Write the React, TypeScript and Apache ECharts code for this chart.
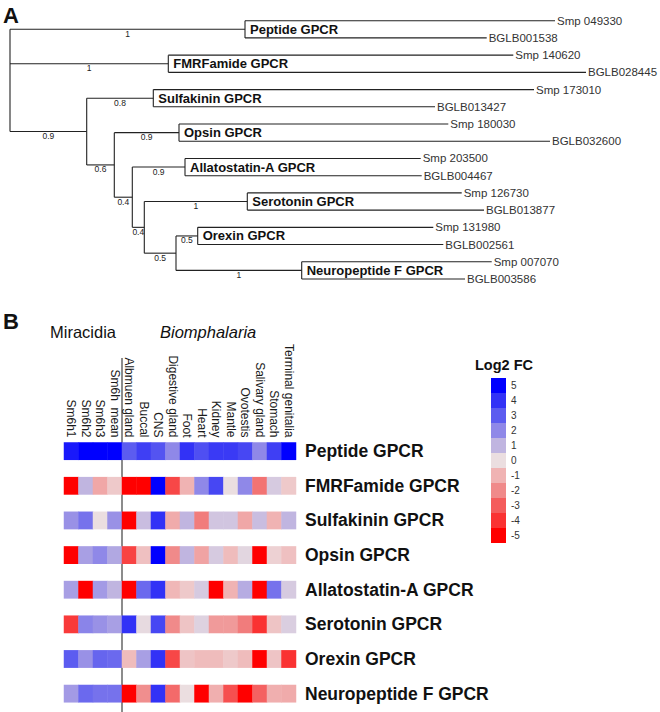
import React, { useEffect, useRef } from 'react';
import * as echarts from 'echarts';

const FONT = '"Liberation Sans", Arial, Helvetica, sans-serif';

// ---------- Panel A : phylogenetic tree ----------
const leafNames = ['Smp 049330', 'BGLB001538', 'Smp 140620', 'BGLB028445', 'Smp 173010', 'BGLB013427', 'Smp 180030', 'BGLB032600', 'Smp 203500', 'BGLB004467', 'Smp 126730', 'BGLB013877', 'Smp 131980', 'BGLB002561', 'Smp 007070', 'BGLB003586'];
const leafDepths = [545, 476.7, 503.3, 576, 524, 425, 438.3, 540, 410.7, 411.7, 451.7, 474, 423.3, 433.3, 481.7, 455];
const leafParents = ['pep', 'pep', 'fmrf', 'fmrf', 'sulf', 'sulf', 'opsin', 'opsin', 'alla', 'alla', 'sero', 'sero', 'orex', 'orex', 'npf', 'npf'];

const cladeIds = ['pep', 'fmrf', 'sulf', 'opsin', 'alla', 'sero', 'orex', 'npf'];
const cladeNames = ['Peptide GPCR', 'FMRFamide GPCR', 'Sulfakinin GPCR', 'Opsin GPCR', 'Allatostatin-A GPCR', 'Serotonin GPCR', 'Orexin GPCR', 'Neuropeptide F GPCR'];
const cladeDepths = [235, 158.3, 143.3, 169, 175, 237.3, 187.7, 291.7];
const cladeParents = ['root', 'root', 'A', 'B', 'C', 'D', 'E', 'E'];
const cladeSupport = ['1', '1', '0.8', '0.9', '0.9', '1', '0.5', '1'];

const innerIds = ['root', 'A', 'B', 'C', 'D', 'E'];
const innerDepths = [0, 76.7, 104.3, 122.3, 134.3, 166];
const innerParents: (string | null)[] = [null, 'root', 'A', 'B', 'C', 'D'];
const innerSupport = ['', '0.9', '0.6', '0.4', '0.4', '0.5'];

// ---------- Panel B : heatmap ----------
const columns = ['Sm6h1', 'Sm6h2', 'Sm6h3', 'Sm6h  mean', 'Albmuen gland', 'Buccal', 'CNS', 'Digestive gland', 'Foot', 'Heart', 'Kidney', 'Mantle', 'Ovotestis', 'Salivary gland', 'Stomach', 'Terminal genitalia'];
const rowNames = ['Peptide GPCR', 'FMRFamide GPCR', 'Sulfakinin GPCR', 'Opsin GPCR', 'Allatostatin-A GPCR', 'Serotonin GPCR', 'Orexin GPCR', 'Neuropeptide F GPCR'];

const peptideVals = [4.5, 5, 5, 5, 3, 3.7, 3.2, 2, 4, 3.3, 3.8, 3.8, 3.5, 2, 3.7, 5];
const fmrfVals = [-5, 1, -1.3, -0.5, -5, -5, 5, -3.5, -1, 2, 3.5, 0, 2, -2.5, 0.5, -0.5];
const sulfVals = [1.8, 2.5, 0, 1.8, -5, 0.8, 4, -1.2, 1, -2.3, 0.6, 0.6, -1.3, 0.8, -1, 1];
const opsinVals = [-5, 1.5, 2, 1.3, -3.6, -0.7, 5, -2, 1, -1.4, 0.5, -0.8, 0.2, -5, -0.3, -0.7];
const allaVals = [1.5, -5, 1.6, 1, -5, 2.7, 4, -0.9, -0.5, 0.5, -5, -1, 1.2, -5, 2.5, 0.5];
const seroVals = [-3.8, 2.1, 1.8, 1.5, 4, 0.1, 3.5, -2, -0.6, 0.3, -1.6, -1.6, -2.3, -4, -0.6, 0.4];
const orexVals = [3, 1.8, 2.8, 2.7, -0.8, 1.5, 4, -3.5, -0.6, -0.8, -0.8, -0.5, -0.8, -5, -0.6, -4];
const npfVals = [1.6, 2.7, 2.5, 2.5, -5, -1.9, 4, -2.7, 0, -5, -1.1, -3.3, -5, -2.9, -1.1, -1.2];
const rowValues = [peptideVals, fmrfVals, sulfVals, opsinVals, allaVals, seroVals, orexVals, npfVals];

const legendLevels = [5, 4, 3, 2, 1, 0, -1, -2, -3, -4, -5];
const legendColors = ['#0000ff', '#3232f6', '#5c5cf0', '#8f88e8', '#c0b5e0', '#ebdee0', '#f0b3b3', '#f08a8a', '#f45c5c', '#fa3232', '#ff0000'];

type TreeNode = { id: string; parent: string | null; depth: number; kind: 'inner' | 'clade' | 'leaf'; label: string; support: string; y: number; ymin: number; ymax: number };

function buildTree(): TreeNode[] {
  const nodes: TreeNode[] = [];
  innerIds.forEach((id, i) => nodes.push({ id, parent: innerParents[i], depth: innerDepths[i], kind: 'inner', label: '', support: innerSupport[i], y: NaN, ymin: NaN, ymax: NaN }));
  cladeIds.forEach((id, i) => nodes.push({ id, parent: cladeParents[i], depth: cladeDepths[i], kind: 'clade', label: cladeNames[i], support: cladeSupport[i], y: NaN, ymin: NaN, ymax: NaN }));
  leafNames.forEach((id, i) => nodes.push({ id, parent: leafParents[i], depth: leafDepths[i], kind: 'leaf', label: id, support: '', y: i, ymin: i, ymax: i }));
  const getY = (n: TreeNode): number => {
    if (!isNaN(n.y)) return n.y;
    const kids = nodes.filter((c) => c.parent === n.id).map(getY);
    n.ymin = Math.min(...kids);
    n.ymax = Math.max(...kids);
    n.y = (n.ymin + n.ymax) / 2;
    return n.y;
  };
  nodes.forEach(getY);
  return nodes;
}

export default function App() {
  const ref = useRef<HTMLDivElement>(null);
  useEffect(() => {
    if (!ref.current) return;
    const chart = echarts.init(ref.current, undefined, { renderer: 'svg' });
    const tree = buildTree();
    const depthOf = new Map(tree.map((n) => [n.id, n.depth]));
    const treeData = tree.map((n) => [n.parent ? (depthOf.get(n.parent) as number) : n.depth, n.depth, n.y, n.ymin, n.ymax]);

    const yCats: string[] = [];
    rowNames.forEach((r, i) => {
      yCats.push(r);
      if (i < rowNames.length - 1) yCats.push('gap' + i);
    });
    const heatData: number[][] = [];
    rowValues.forEach((vals, r) => vals.forEach((v, c) => heatData.push([c, r * 2, v])));

    const LINE = '#222';
    const option: any = {
      animation: false,
      textStyle: { fontFamily: FONT },
      grid: [
        { left: 10, top: 20.7, width: 600, height: 258.3 },
        { left: 64, top: 442.5, width: 232, height: 259.8 },
      ],
      xAxis: [
        { type: 'value', gridIndex: 0, min: 0, max: 600, show: false },
        {
          type: 'category', gridIndex: 1, data: columns, position: 'top',
          axisLine: { show: false }, axisTick: { show: false }, splitLine: { show: false },
          axisLabel: { rotate: 90, fontSize: 12, color: '#1a1a1a', margin: 5, interval: 0, fontFamily: FONT },
        },
      ],
      yAxis: [
        { type: 'value', gridIndex: 0, min: 0, max: 15, inverse: true, show: false },
        {
          type: 'category', gridIndex: 1, data: yCats, inverse: true, position: 'right',
          axisLine: { show: false }, axisTick: { show: false }, splitLine: { show: false },
          axisLabel: {
            fontSize: 17.5, fontWeight: 'bold', color: '#111', margin: 9, interval: 0, fontFamily: FONT,
            formatter: (v: string) => (v.startsWith('gap') ? '' : v),
          },
        },
      ],
      visualMap: [
        {
          type: 'continuous', show: false, seriesIndex: 1, min: -5, max: 5,
          inRange: { color: legendColors.slice().reverse() },
        },
        {
          type: 'piecewise', seriesIndex: 2, orient: 'vertical', left: 491, top: 378, align: 'left',
          itemWidth: 15, itemHeight: 15, itemGap: 0, itemSymbol: 'rect', textGap: 5, padding: 0,
          selectedMode: false, hoverLink: false,
          textStyle: { fontSize: 10, color: '#333', fontFamily: FONT },
          pieces: legendLevels.map((v, i) => ({ value: v, label: String(v), color: legendColors[i] })),
        },
      ],
      series: [
        {
          type: 'custom', xAxisIndex: 0, yAxisIndex: 0, silent: true, clip: false,
          encode: { x: [0, 1], y: [2, 3, 4] },
          data: treeData,
          renderItem: (params: any, api: any) => {
            const n = tree[params.dataIndex];
            const children: any[] = [];
            const p0 = api.coord([api.value(0), api.value(2)]);
            const p1 = api.coord([api.value(1), api.value(2)]);
            if (n.parent) {
              children.push({ type: 'line', shape: { x1: p0[0], y1: p0[1], x2: p1[0], y2: p1[1] }, style: { stroke: LINE, lineWidth: 1.1 } });
            }
            if (api.value(4) > api.value(3)) {
              const a = api.coord([api.value(1), api.value(3)]);
              const b = api.coord([api.value(1), api.value(4)]);
              children.push({ type: 'line', shape: { x1: a[0], y1: a[1], x2: b[0], y2: b[1] }, style: { stroke: LINE, lineWidth: 1.1 } });
            }
            if (n.support) {
              children.push({ type: 'text', x: (p0[0] + p1[0]) / 2, y: p0[1] + 4.5, style: { text: n.support, fontSize: 8.5, fontFamily: FONT, fill: '#222', align: 'center', verticalAlign: 'middle' } });
            }
            if (n.kind === 'clade') {
              children.push({ type: 'text', x: p1[0] + 5, y: p1[1], style: { text: n.label, fontSize: 13, fontWeight: 'bold', fontFamily: FONT, fill: '#111', align: 'left', verticalAlign: 'middle' } });
            }
            if (n.kind === 'leaf') {
              children.push({ type: 'text', x: p1[0] + 2, y: p1[1], style: { text: n.label, fontSize: 11.5, fontFamily: FONT, fill: '#333', align: 'left', verticalAlign: 'middle' } });
            }
            return { type: 'group', children };
          },
        },
        {
          type: 'heatmap', xAxisIndex: 1, yAxisIndex: 1, data: heatData, silent: true,
          emphasis: { disabled: true },
        },
        { type: 'scatter', xAxisIndex: 1, yAxisIndex: 1, data: [], silent: true },
      ],
      graphic: [
        { type: 'text', x: 3, y: 15, style: { text: 'A', fontSize: 22, fontWeight: 'bold', fontFamily: FONT, fill: '#111', verticalAlign: 'middle' } },
        { type: 'text', x: 3, y: 321, style: { text: 'B', fontSize: 22, fontWeight: 'bold', fontFamily: FONT, fill: '#111', verticalAlign: 'middle' } },
        { type: 'text', x: 50, y: 332, style: { text: 'Miracidia', fontSize: 16.5, fontFamily: FONT, fill: '#111', verticalAlign: 'middle' } },
        { type: 'text', x: 160, y: 332, style: { text: 'Biomphalaria', fontSize: 16.5, fontStyle: 'italic', fontFamily: FONT, fill: '#111', verticalAlign: 'middle' } },
        { type: 'text', x: 475, y: 365, style: { text: 'Log2 FC', fontSize: 14.5, fontWeight: 'bold', fontFamily: FONT, fill: '#111', verticalAlign: 'middle' } },
        { type: 'line', shape: { x1: 122, y1: 358, x2: 122, y2: 712 }, style: { stroke: '#666', lineWidth: 1.5 } },
      ],
    };
    chart.setOption(option);
    return () => chart.dispose();
  }, []);
  return <div ref={ref} style={{ position: 'fixed', left: 0, top: 0, width: 660, height: 712, background: '#fff' }} />;
}
